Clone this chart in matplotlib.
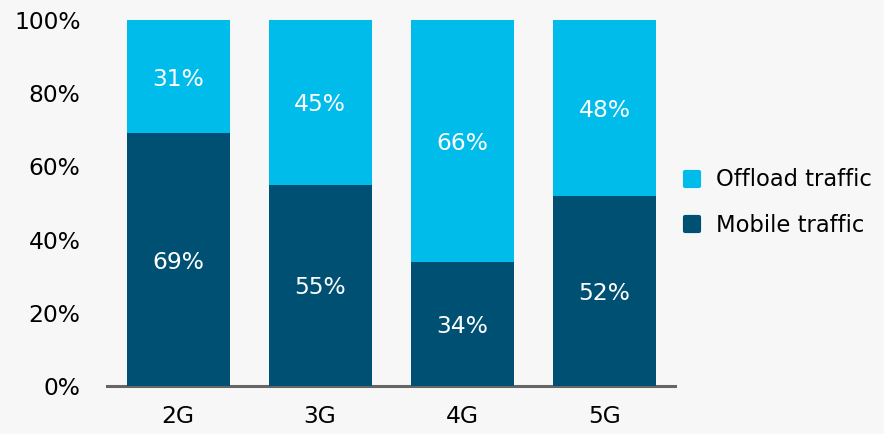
import matplotlib
matplotlib.use("Agg")
import matplotlib.pyplot as plt
from matplotlib.lines import Line2D
from matplotlib.markers import MarkerStyle

categories = ["2G", "3G", "4G", "5G"]
mobile = [69, 55, 34, 52]
offload = [31, 45, 66, 48]
yticks = [0, 20, 40, 60, 80, 100]

c_mobile = "#005073"
c_offload = "#00bceb"
bg = "#f7f7f7"

plt.rcParams['font.family'] = ['DejaVu Sans']
fs = 16.8

fig = plt.figure(figsize=(8.84, 4.34), dpi=100, facecolor=bg)
ax = fig.add_axes([0.121, 0.1106, 0.643, 0.8434], facecolor=bg)

x = range(len(categories))
w = 0.725
ax.bar(x, mobile, width=w, color=c_mobile)
ax.bar(x, offload, width=w, bottom=mobile, color=c_offload)

for i, (m, o) in enumerate(zip(mobile, offload)):
    ax.text(i, m / 2, f"{m}%", ha="center", va="center_baseline", color="white", fontsize=fs)
    ax.text(i, m + o / 2, f"{o}%", ha="center", va="center_baseline", color="white", fontsize=fs)

ax.set_xlim(-0.5, 3.5)
ax.set_ylim(0, 100)
ax.set_yticks(yticks)
ax.set_yticklabels([f"{t}%" for t in yticks])
ax.set_xticks(list(x))
ax.set_xticklabels(categories)
ax.tick_params(axis="both", length=0, labelsize=fs, colors="black")
ax.tick_params(axis="y", pad=19)
ax.tick_params(axis="x", pad=14)
for s in ["top", "right", "left"]:
    ax.spines[s].set_visible(False)
ax.spines["bottom"].set_color("#666666")
ax.spines["bottom"].set_linewidth(2.2)
ax.spines["bottom"].set_zorder(0)

def sq(c):
    return Line2D([], [], marker=MarkerStyle("s", joinstyle="round"), linestyle="none",
                  markersize=10, markeredgewidth=3, markerfacecolor=c, markeredgecolor=c)

handles = [sq(c_offload), sq(c_mobile)]
fig.legend(handles, ["Offload traffic", "Mobile traffic"], loc="center left",
           bbox_to_anchor=(0.770, 0.533), frameon=False, fontsize=16.3,
           borderpad=0, borderaxespad=0, handlelength=1.0, handletextpad=0.56,
           labelspacing=0.99)

fig.savefig("out.png", dpi=100, facecolor=bg)
